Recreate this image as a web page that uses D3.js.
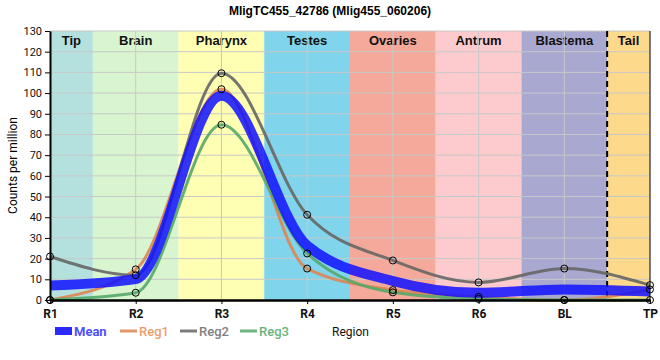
<!DOCTYPE html>
<html>
<head>
<meta charset="utf-8">
<script src="https://cdn.jsdelivr.net/npm/d3@7"></script>
<style>
  body { margin: 0; background: #fff; }
  svg { display: block; font-family: "Liberation Sans", Arial, sans-serif; }
</style>
</head>
<body>
<div id="chart"></div>
<script>
// data
const regions = ["R1", "R2", "R3", "R4", "R5", "R6", "BL", "TP"];
const bands = ["Tip", "Brain", "Pharynx", "Testes", "Ovaries", "Antrum", "Blastema", "Tail"];
const bandColors = ["#b4e1dd", "#d8f5d0", "#ffffb4", "#80d4eb", "#f4a99a", "#fdcbcd", "#a9a8d0", "#fdd98b"];
const meanVals = [7.0, 10.1, 98.7, 26.3, 9.2, 3.5, 5.1, 4.1];
const reg1Vals = [0, 14.8, 101.9, 15.2, 4.8, 1.5, 0, 5.1];
const reg2Vals = [21, 12, 109.6, 41.2, 19.1, 8.5, 15.2, 7.2];
const reg3Vals = [0, 3.5, 84.7, 22.5, 3.7, 0.5, 0, 0];
const yTicks = d3.range(0, 131, 10);

const width = 660, height = 360;
const margin = { top: 31, right: 10, bottom: 60, left: 50 };

const svg = d3.select("#chart").append("svg")
  .attr("width", width)
  .attr("height", height);

const x = d3.scalePoint().domain(regions).range([margin.left, width - margin.right]);
const y = d3.scaleLinear().domain([0, 130]).range([height - margin.bottom, margin.top]);
const step = x.step();

// background bands (half width at both ends)
const bandG = svg.append("g");
bands.forEach((b, i) => {
  const x0 = i === 0 ? x(regions[0]) : x(regions[i]) - step / 2;
  const x1 = i === bands.length - 1 ? x(regions[i]) : x(regions[i]) + step / 2;
  bandG.append("rect")
    .attr("x", x0).attr("y", y(130))
    .attr("width", x1 - x0).attr("height", y(0) - y(130))
    .attr("fill", bandColors[i]);
  bandG.append("text")
    .attr("x", (x0 + x1) / 2).attr("y", y(130) + 14)
    .attr("text-anchor", "middle")
    .attr("font-size", 13).attr("font-weight", "bold")
    .attr("fill", "#111")
    .text(b);
});

// grid
svg.append("g").selectAll("line.h").data(yTicks.filter(d => d > 0)).join("line")
  .attr("x1", x.range()[0]).attr("x2", x.range()[1])
  .attr("y1", d => y(d)).attr("y2", d => y(d))
  .attr("stroke", "#c8c8c8").attr("stroke-width", 1);
svg.append("g").selectAll("line.v").data(regions.slice(1, -1)).join("line")
  .attr("x1", d => x(d)).attr("x2", d => x(d))
  .attr("y1", y(0)).attr("y2", y(130))
  .attr("stroke", "#c8c8c8").attr("stroke-width", 1);

// dashed divider before the tail
svg.append("line")
  .attr("x1", x("TP") - step / 2).attr("x2", x("TP") - step / 2)
  .attr("y1", y(130)).attr("y2", y(0))
  .attr("stroke", "#000").attr("stroke-width", 2)
  .attr("stroke-dasharray", "6,4");

// series
const line = d3.line()
  .x((d, i) => x(regions[i]))
  .y(d => y(d))
  .curve(d3.curveMonotoneX);

const regs = [
  { name: "Reg1", vals: reg1Vals, color: "#dd8452", text: "#eb9e6e" },
  { name: "Reg2", vals: reg2Vals, color: "#666666", text: "#808080" },
  { name: "Reg3", vals: reg3Vals, color: "#55a868", text: "#6ab47c" }
];

regs.forEach(r => {
  svg.append("path")
    .attr("d", line(r.vals))
    .attr("fill", "none")
    .attr("stroke", r.color)
    .attr("stroke-width", 3)
    .attr("stroke-opacity", 0.9);
});

svg.append("path")
  .attr("d", line(meanVals))
  .attr("fill", "none")
  .attr("stroke", "#1010ff")
  .attr("stroke-width", 10)
  .attr("stroke-opacity", 0.85);

regs.forEach(r => {
  svg.append("g").selectAll("circle").data(r.vals).join("circle")
    .attr("cx", (d, i) => x(regions[i]))
    .attr("cy", d => y(d))
    .attr("r", 3.5)
    .attr("fill", "none")
    .attr("stroke", "#000")
    .attr("stroke-width", 1);
});

// axes
const yAxis = svg.append("g")
  .attr("transform", `translate(${margin.left},0)`)
  .call(d3.axisLeft(y).tickValues(yTicks).tickSize(5).tickSizeOuter(0));
yAxis.select(".domain").attr("stroke", "#000").attr("stroke-width", 2);
yAxis.selectAll("text").attr("font-size", 11).attr("fill", "#111").attr("font-family", "Roboto, sans-serif");

const xAxis = svg.append("g")
  .attr("transform", `translate(0,${y(0)})`)
  .call(d3.axisBottom(x).tickSize(4).tickSizeOuter(0));
xAxis.select(".domain").attr("stroke", "#000").attr("stroke-width", 2.5);
xAxis.selectAll("text").attr("font-size", 12).attr("font-weight", "bold")
  .attr("fill", "#111").attr("font-family", "Roboto, sans-serif").attr("dy", "0.9em");

// right frame
svg.append("line")
  .attr("x1", x.range()[1]).attr("x2", x.range()[1])
  .attr("y1", y(130)).attr("y2", y(0))
  .attr("stroke", "#000").attr("stroke-width", 1);

// titles
svg.append("text")
  .attr("x", width / 2).attr("y", 15)
  .attr("text-anchor", "middle")
  .attr("font-size", 12).attr("font-weight", "bold")
  .text("MligTC455_42786 (Mlig455_060206)");

svg.append("text")
  .attr("transform", `translate(17,${(y(0) + y(130)) / 2}) rotate(-90)`)
  .attr("text-anchor", "middle")
  .attr("font-size", 12)
  .attr("font-family", "Roboto, sans-serif")
  .text("Counts per million");

// legend
const leg = svg.append("g").attr("font-family", "Roboto, sans-serif").attr("font-size", 13);
leg.append("rect").attr("x", 55).attr("y", 327).attr("width", 17).attr("height", 8).attr("fill", "#2a2aff");
leg.append("text").attr("x", 74).attr("y", 335.5).attr("fill", "#5050ff").attr("font-weight", "bold").text("Mean");
const legX = [120, 180, 240];
regs.forEach((r, i) => {
  leg.append("line")
    .attr("x1", legX[i]).attr("x2", legX[i] + 17)
    .attr("y1", 331).attr("y2", 331)
    .attr("stroke", r.color).attr("stroke-width", 3).attr("stroke-opacity", 0.85);
  leg.append("text").attr("x", legX[i] + 19).attr("y", 335.5)
    .attr("fill", r.text).attr("font-weight", 500).text(r.name);
});
leg.append("text").attr("x", 332).attr("y", 335.5).attr("fill", "#111").attr("font-size", 12).text("Region");
</script>
</body>
</html>
